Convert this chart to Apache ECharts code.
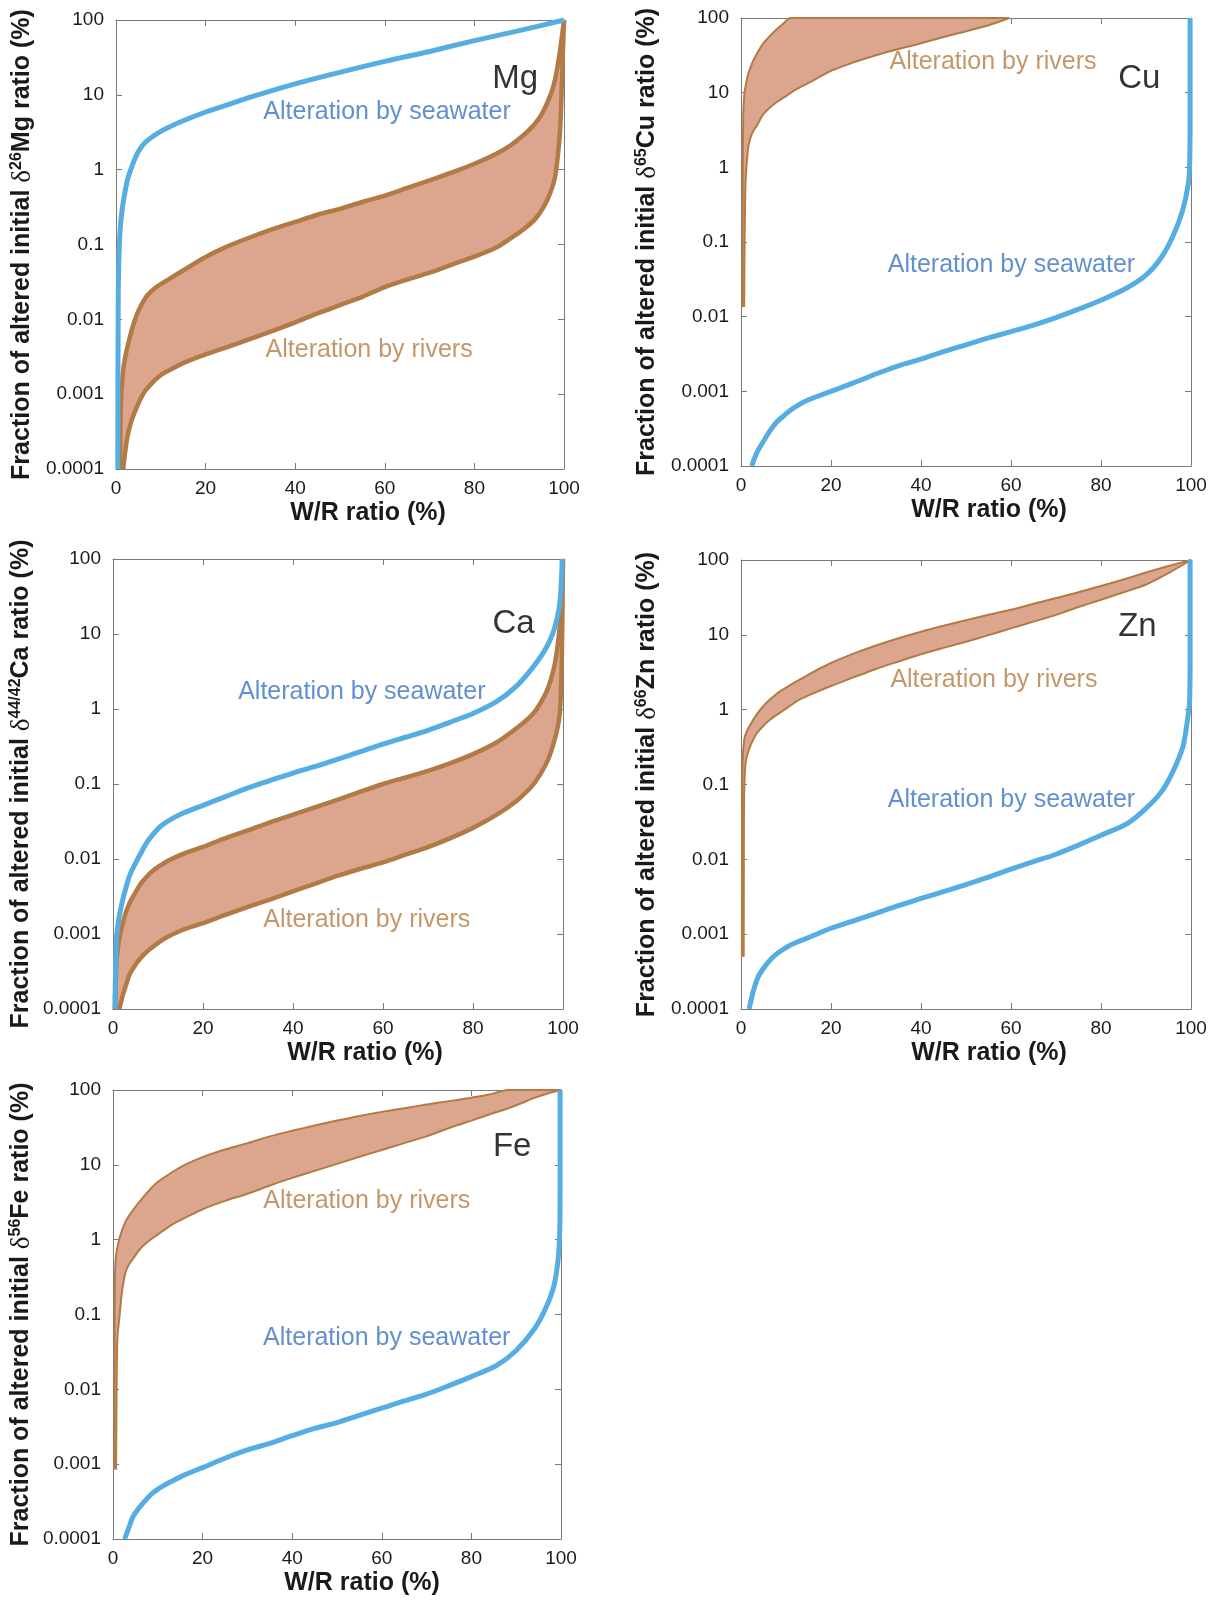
<!DOCTYPE html>
<html><head><meta charset="utf-8">
<script src="https://cdn.jsdelivr.net/npm/echarts/dist/echarts.min.js"></script>
<style>html,body{margin:0;padding:0;background:#fff}#c{width:1217px;height:1606px}</style>
</head><body><div id="c"></div><script>
// ---------- tick labels ----------
const xTickLabels = ['0','20','40','60','80','100'];
const yTickLabels = ['0.0001','0.001','0.01','0.1','1','10','100'];

// ---------- Mg ----------
const mgSeawater = [[0.4,0.0001],[0.5,0.02],[0.7,0.08],[1,0.18],[1.5,0.33],[2,0.5],[2.6,0.75],[3.3,1.0],[4,1.3],[5,1.75],[6.5,2.3],[8.5,2.85],[10,3.25],[12,3.75],[15,4.5],[20,5.9],[25,7.4],[30,9.3],[40,14],[50,20],[60,28],[70,38],[80,53],[90,72],[100,100]];
const mgRiverUpper = [[0.9,0.0001],[1.1,0.0008],[1.5,0.0018],[2,0.003],[3,0.0055],[4,0.009],[5,0.013],[6,0.017],[7,0.021],[9,0.027],[12,0.035],[15,0.045],[20,0.068],[25,0.095],[30,0.125],[35,0.16],[40,0.2],[45,0.25],[50,0.3],[55,0.37],[60,0.45],[65,0.57],[70,0.72],[75,0.92],[80,1.2],[85,1.65],[88,2.1],[91,2.9],[93,3.8],[95,5.5],[97,10],[98,16],[99,35],[100,100]];
const mgRiverLower = [[1.6,0.0001],[2,0.00016],[2.6,0.00028],[3.5,0.00045],[5,0.00075],[6.5,0.0011],[8.5,0.0015],[10,0.0018],[12,0.0021],[15,0.0026],[20,0.0034],[25,0.0043],[30,0.0055],[35,0.007],[40,0.0091],[45,0.012],[50,0.0155],[55,0.02],[60,0.027],[65,0.034],[70,0.042],[75,0.054],[80,0.069],[85,0.092],[88,0.12],[91,0.16],[93.6,0.22],[95.5,0.32],[97,0.5],[98,0.8],[98.7,1.7],[99.2,4],[99.6,20],[100,100]];

// ---------- Cu ----------
const cuSeawater = [[2.4,0.0001],[3.5,0.00015],[5.2,0.000225],[6.5,0.0003],[7.8,0.00038],[9.5,0.00047],[11.2,0.00057],[13,0.00067],[15,0.00077],[17.5,0.00088],[20,0.001],[25,0.0013],[31,0.0018],[35,0.0022],[40,0.0027],[45,0.0034],[50,0.0042],[55,0.0052],[60,0.0063],[65,0.0077],[70,0.0097],[75,0.0126],[80,0.0166],[85.6,0.024],[90,0.036],[93.4,0.062],[96,0.12],[98.1,0.26],[99.4,0.6],[99.7,1.1],[99.8,5],[99.8,100]];
const cuRiverUpper = [[0.3,0.0135],[0.4,1],[0.5,5],[0.7,9],[1,12],[1.5,17],[2.5,25],[3.5,33],[5,46],[6.5,58],[8,71],[9.5,85],[11,100],[59.6,100]];
const cuRiverLower = [[0.7,0.0135],[0.8,0.1],[1,0.6],[1.3,1.2],[1.7,2],[2.5,2.9],[3.5,3.6],[5,5.2],[6.5,6.4],[8,7.5],[10,9],[12,10.8],[15,13.5],[20,19.6],[23,23],[25,25.5],[31,33],[40,46],[48,62],[55,80],[59.6,100]];

// ---------- Ca ----------
const caSeawater = [[0.4,0.0001],[0.6,0.0004],[0.8,0.0009],[1.3,0.0016],[2,0.0026],[2.8,0.004],[3.7,0.006],[5,0.0088],[6.3,0.0123],[7.5,0.0165],[8.8,0.021],[10.5,0.027],[12.2,0.032],[15.6,0.041],[20,0.052],[25,0.068],[30,0.089],[35,0.112],[40,0.14],[45,0.172],[50,0.215],[55,0.27],[60,0.34],[65,0.42],[70,0.52],[75,0.67],[80,0.87],[85.3,1.26],[89.6,2.0],[93,3.4],[95.6,5.6],[97,8],[98.1,11.8],[99,20],[99.4,30],[99.7,60],[99.8,100]];
const caRiverUpper = [[0.5,0.0001],[0.8,0.00045],[1.3,0.0008],[2,0.00126],[2.8,0.0019],[3.7,0.0026],[5,0.0036],[6.3,0.0048],[7.5,0.0058],[8.8,0.0069],[10.5,0.0082],[12.2,0.0095],[15.6,0.0117],[20,0.0145],[25,0.019],[30,0.024],[35,0.031],[40,0.039],[45,0.049],[50,0.062],[55,0.079],[60,0.1],[65,0.122],[70,0.15],[75,0.19],[80,0.25],[85.3,0.36],[89.6,0.55],[92,0.72],[94,0.97],[96.5,1.8],[98.1,3.8],[99,8.7],[99.5,18],[99.8,60],[100,100]];
const caRiverLower = [[1.4,0.0001],[2,0.00014],[2.8,0.0002],[3.7,0.00029],[5,0.00039],[6.3,0.00049],[7.5,0.00058],[8.8,0.00067],[10.5,0.0008],[12.2,0.00092],[15.6,0.00114],[20,0.0014],[25,0.0018],[30,0.0023],[35,0.0029],[40,0.0037],[45,0.0047],[50,0.006],[55,0.0074],[60,0.009],[65,0.0114],[70,0.0144],[75,0.019],[80,0.026],[85.3,0.039],[89.6,0.059],[92,0.08],[94,0.11],[96.5,0.2],[98.1,0.38],[99.2,0.79],[99.6,2.2],[99.8,8.7],[100,100]];

// ---------- Zn ----------
const znSeawater = [[1.8,0.0001],[2.7,0.00017],[3.7,0.00026],[5,0.00035],[6.3,0.00044],[7.5,0.00052],[8.9,0.0006],[10.5,0.00069],[12.4,0.00078],[15,0.0009],[20,0.0012],[25,0.0015],[30,0.0019],[35,0.0024],[40,0.003],[45,0.0037],[50,0.0046],[55,0.0058],[60,0.0074],[65,0.0093],[70,0.0117],[75,0.0155],[80,0.021],[85.8,0.03],[90,0.048],[93.5,0.081],[96,0.15],[98.2,0.32],[99.2,0.72],[99.7,1.35],[99.8,5],[99.8,100]];
const znRiverUpper = [[0.2,0.0005],[0.25,0.05],[0.35,0.2],[0.7,0.39],[1.2,0.5],[2,0.62],[3,0.78],[3.7,0.9],[5,1.12],[6.3,1.35],[7.5,1.55],[8.9,1.8],[10.5,2.05],[12.4,2.4],[15,2.95],[20,4.2],[25,5.6],[30,7.2],[35,9],[40,11],[45,13.2],[50,15.7],[55,18.5],[60,21.6],[65,26],[70,31],[75,37],[80,45],[85,55],[90,68],[95,83],[100,100]];
const znRiverLower = [[0.6,0.0005],[0.65,0.03],[0.75,0.1],[1.1,0.21],[2,0.32],[3,0.43],[3.7,0.5],[5,0.61],[6.3,0.72],[7.5,0.82],[8.9,0.93],[10.5,1.08],[12.4,1.3],[15,1.55],[20,2.07],[25,2.7],[30,3.5],[35,4.4],[40,5.5],[45,6.7],[50,8.1],[55,9.9],[60,12.2],[65,15],[70,18.5],[75,23.5],[80,29.5],[85,37],[90,47],[95.2,68],[100,100]];

// ---------- Fe ----------
const feSeawater = [[2.6,0.0001],[3.5,0.00014],[4.5,0.0002],[5.8,0.00026],[7.1,0.00032],[8.4,0.00039],[9.7,0.00045],[11.4,0.00052],[13.1,0.00059],[16,0.00072],[20,0.0009],[25,0.0012],[30,0.00155],[35,0.0019],[40,0.0024],[45,0.003],[50,0.0036],[55,0.0045],[60,0.0056],[65,0.007],[70,0.0086],[75,0.0112],[80,0.0148],[85.7,0.021],[90,0.033],[94.2,0.066],[96.7,0.126],[98.4,0.24],[99.3,0.51],[99.7,1.2],[99.8,5],[99.8,100]];
const feRiverUpper = [[0.3,0.00085],[0.35,0.05],[0.45,0.33],[0.7,0.63],[1.5,1.07],[2.8,1.74],[4.5,2.5],[7.1,3.9],[9.7,5.7],[13.1,7.9],[16,10],[20,12.7],[25,16],[30,19.5],[35,24],[40,28.5],[45,33.5],[50,39],[55,45],[60,51],[65,57],[70,64],[75,71],[80,79],[84,87],[88.2,100],[100,100]];
const feRiverLower = [[0.7,0.00085],[0.8,0.01],[1,0.05],[1.5,0.1],[2,0.2],[2.8,0.37],[3.5,0.46],[4.5,0.56],[5.8,0.72],[7.1,0.87],[9.7,1.14],[13.1,1.58],[16,1.95],[20,2.55],[25,3.3],[30,4.1],[35,5.3],[40,6.7],[45,8.3],[50,10.3],[55,12.8],[60,15.8],[65,19.5],[70,24],[75,31],[80,39],[84,47],[88.2,57],[91,66],[94.2,79],[97,90],[100,100]];

// ---------- styling ----------
const FF = '"Liberation Sans", Arial, Helvetica, sans-serif';
const BLUE_LINE = '#55ADE2';
const BROWN_LINE = '#B27A44';
const FILL = '#DCA68E';
const BLUE_TEXT = '#3B73C3';
const BROWN_TEXT = '#B67C45';
const AX = '#7a7a7a';
const TXT = '#1a1a1a';
const SMOOTH = 0.3;

const panels = [
  {el:'Mg', sup:'26', grid:{left:116, top:20, width:448, height:449}, sea:mgSeawater, up:mgRiverUpper, lo:mgRiverLower, rw:4.5, xShift:56, yGap:80,
   place:{el:[89.1,16.2], sea:[60.5,5.8], riv:[56.5,0.00385]}},
  {el:'Cu', sup:'65', grid:{left:741, top:18, width:450, height:448}, sea:cuSeawater, up:cuRiverUpper, lo:cuRiverLower, rw:2, xShift:46, yGap:80,
   place:{el:[88.5,15.3], sea:[60.1,0.0486], riv:[56.0,25.4]}},
  {el:'Ca', sup:'44/42', grid:{left:113, top:559, width:450, height:450}, sea:caSeawater, up:caRiverUpper, lo:caRiverLower, rw:4.5, xShift:54, yGap:78,
   place:{el:[89.0,13.6], sea:[55.3,1.7], riv:[56.4,0.00153]}},
  {el:'Zn', sup:'66', grid:{left:741, top:560, width:450, height:449}, sea:znSeawater, up:znRiverUpper, lo:znRiverLower, rw:2, xShift:46, yGap:80,
   place:{el:[88.1,12.7], sea:[60.1,0.0617], riv:[56.2,2.47]}},
  {el:'Fe', sup:'56', grid:{left:113, top:1090, width:448, height:449}, sea:feSeawater, up:feRiverUpper, lo:feRiverLower, rw:2, xShift:50, yGap:78,
   place:{el:[89.1,17.1], sea:[61.1,0.0483], riv:[56.65,3.3]}}
];

const grid = [], xAxis = [], yAxis = [], series = [];
panels.forEach((p, i) => {
  grid.push(Object.assign({containLabel:false}, p.grid));
  const baseX = {gridIndex:i, type:'value', min:0, max:100, interval:20,
    axisLine:{show:true, onZero:false, lineStyle:{color:AX, width:1}},
    axisTick:{show:true, inside:true, length:6, lineStyle:{color:AX, width:1}},
    splitLine:{show:false}};
  xAxis.push(Object.assign({}, baseX, {position:'bottom',
    axisLabel:{show:true, color:TXT, fontSize:19, fontFamily:FF, margin:10,
      formatter:(v)=> xTickLabels[Math.round(v/20)]},
    name:'W/R ratio (%)', nameLocation:'middle', nameGap:32,
    nameTextStyle:{fontSize:25, fontWeight:'bold', color:TXT, fontFamily:FF, padding:[0,0,0,p.xShift]}}));
  xAxis.push(Object.assign({}, baseX, {position:'top', axisLabel:{show:false}}));
  const baseY = {gridIndex:i, type:'log', logBase:10, min:0.0001, max:100,
    axisLine:{show:true, onZero:false, lineStyle:{color:AX, width:1}},
    axisTick:{show:true, inside:true, length:6, lineStyle:{color:AX, width:1}},
    minorTick:{show:false}, splitLine:{show:false}};
  yAxis.push(Object.assign({}, baseY, {position:'left',
    axisLabel:{show:true, color:TXT, fontSize:19, fontFamily:FF, margin:12,
      formatter:(v)=> yTickLabels[Math.round(Math.log10(v))+4] || ''},
    name:'{t|Fraction of altered initial }{d|δ}{s|' + p.sup + '}{t|' + p.el + ' ratio (%)}',
    nameLocation:'middle', nameRotate:90, nameGap:p.yGap,
    nameTextStyle:{color:TXT, rich:{
      t:{fontSize:25, fontWeight:'bold', fontFamily:FF, color:TXT, lineHeight:27},
      d:{fontSize:27, fontWeight:'normal', fontFamily:'"Liberation Serif", serif', color:TXT, lineHeight:27},
      s:{fontSize:16, fontWeight:'bold', fontFamily:FF, color:TXT, verticalAlign:'top', lineHeight:16}
    }}}));
  yAxis.push(Object.assign({}, baseY, {position:'right', axisLabel:{show:false}}));

  const xi = 2*i, yi = 2*i;
  const up = p.up, lo = p.lo;
  series.push({type:'custom', xAxisIndex:xi, yAxisIndex:yi, clip:true, silent:true, z:1,
    data:[[50,1]],
    renderItem:(params, api) => {
      if (params.dataIndex !== 0) return null;
      const pts = up.map(d => api.coord(d)).concat(lo.slice().reverse().map(d => api.coord(d)));
      return {type:'polygon', shape:{points:pts}, style:{fill:FILL, stroke:null}};
    }});
  [up, lo].forEach(arr => series.push({type:'line', xAxisIndex:xi, yAxisIndex:yi, data:arr, z:2,
    showSymbol:false, symbol:'none', silent:true, clip:true, smooth:SMOOTH,
    lineStyle:{color:BROWN_LINE, width:p.rw, join:'round'}}));
  series.push({type:'line', xAxisIndex:xi, yAxisIndex:yi, data:p.sea, z:3,
    showSymbol:false, symbol:'none', silent:true, clip:true, smooth:SMOOTH,
    lineStyle:{color:BLUE_LINE, width:5, join:'round'}});
  const lab = (pos, text, size, color) => ({value:pos, label:{show:true, position:'inside', formatter:text,
    fontSize:size, color:color, fontFamily:FF}});
  series.push({type:'scatter', xAxisIndex:xi, yAxisIndex:yi, z:4, silent:true, symbolSize:1,
    itemStyle:{color:'rgba(0,0,0,0)'},
    data:[lab(p.place.el, p.el, 33, '#000'), lab(p.place.sea, 'Alteration by seawater', 25, BLUE_TEXT),
          lab(p.place.riv, 'Alteration by rivers', 25, BROWN_TEXT)]});
});

const chart = echarts.init(document.getElementById('c'), null, {renderer:'canvas'});
chart.setOption({animation:false, backgroundColor:'#fff', grid, xAxis, yAxis, series});
</script></body></html>
